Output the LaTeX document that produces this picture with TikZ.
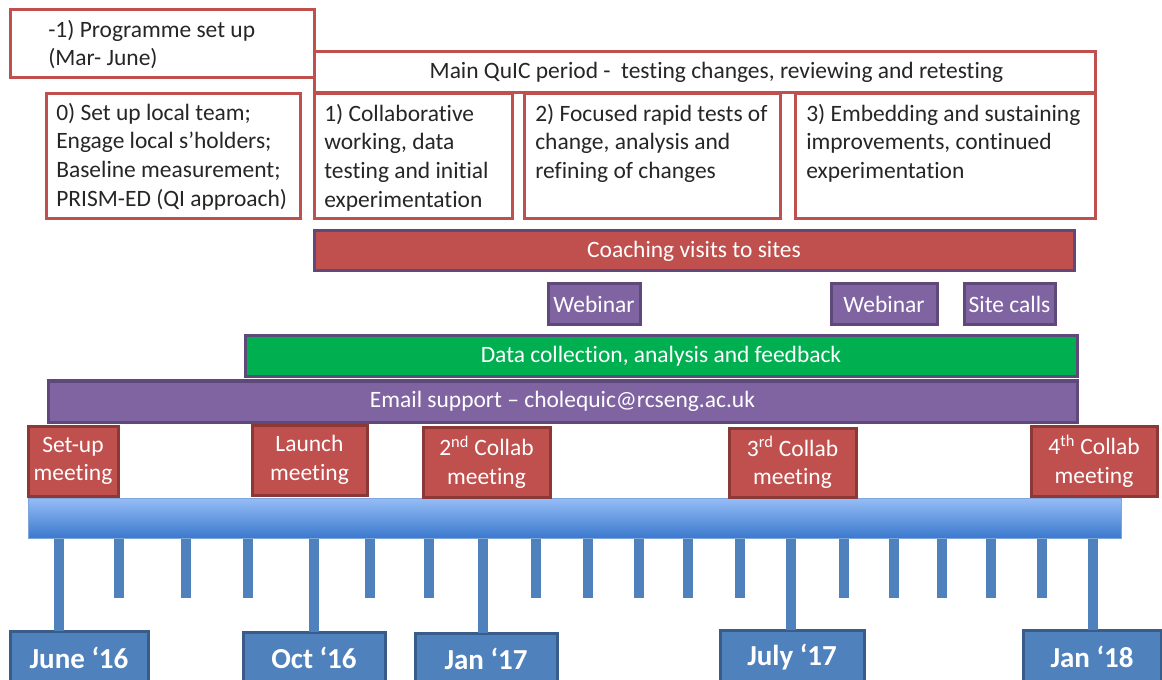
\documentclass[tikz,border=0pt]{standalone}
\usepackage{fontspec}
\setmainfont[Ligatures={TeX,NoCommon}]{Carlito}
\definecolor{qred}{HTML}{C0504D}
\definecolor{qredd}{HTML}{8C3836}
\definecolor{qpurp}{HTML}{8064A2}
\definecolor{qpurpd}{HTML}{5F497A}
\definecolor{qgreen}{HTML}{00B050}
\definecolor{qblue}{HTML}{4F81BD}
\definecolor{qblued}{HTML}{385D8A}
\definecolor{qbartop}{HTML}{96BDF6}
\definecolor{qbarbot}{HTML}{3B79CD}
\definecolor{qbaredge}{HTML}{7FA6DC}
\definecolor{qtext}{HTML}{262626}
\newcommand\pxbox[7]{\node[#1, minimum width={(#5-#3)*0.75pt}, minimum height={(#6-#4)*0.75pt}] (#2) at ({(#3+#5)/2},{(#4+#6)/2}) {#7};}
\tikzset{
  base/.style={inner sep=0pt, outer sep=0pt, line width=2.25pt, font=\fontsize{17.6pt}{21.4pt}\selectfont},
  phase/.style={base, draw=qred, fill=white},
  phasetext/.style={inner sep=0pt, anchor=north west, align=left, text=qtext, font=\fontsize{17.6pt}{21.4pt}\selectfont},
  redbar/.style={base, draw=qpurpd, fill=qred, text=white},
  purpbox/.style={base, draw=qpurpd, fill=qpurp, text=white},
  greenbar/.style={base, draw=qpurpd, fill=qgreen, text=white},
  meetbox/.style={base, draw=qredd, fill=qred, text=white, align=center},
  datebox/.style={base, draw=qblued, fill=qblue, text=white, font=\fontsize{21.75pt}{26pt}\selectfont\bfseries},
  tick/.style={draw=qblue, line width=7.5pt},
  tline/.style={base, line width=0.6pt, draw=qbaredge, top color=qbartop, bottom color=qbarbot}
}
\begin{document}
\begin{tikzpicture}[x=0.75pt, y=-0.75pt]
\useasboundingbox (0,0) rectangle (1162,680);
\clip (0,0) rectangle (1162,680);

% top phase boxes
\pxbox{phase}{pm1}{10}{10}{314}{78}{}
\node[phasetext] (pm1t) at (48,20) {-1) Programme set up\\(Mar- June)};
\pxbox{phase}{main}{314}{52}{1095}{93}{}
\node[inner sep=0pt, text=qtext, font=\fontsize{17.6pt}{21.4pt}\selectfont] (maint) at (716.5,72) {Main QuIC period -\ \ testing changes, reviewing and retesting};
\pxbox{phase}{p0}{46}{94}{300}{219}{}
\node[phasetext] (p0t) at (56,103) {0) Set up local team;\\Engage local s’holders;\\Baseline measurement;\\PRISM-ED (QI approach)};
\pxbox{phase}{p1}{314}{94}{512}{219}{}
\node[phasetext] (p1t) at (324,104) {1) Collaborative\\working, data\\testing and initial\\experimentation};
\pxbox{phase}{p2}{524}{94}{780}{219}{}
\node[phasetext] (p2t) at (535,104) {2) Focused rapid tests of\\change, analysis and\\refining of changes};
\pxbox{phase}{p3}{795}{94}{1095}{219}{}
\node[phasetext] (p3t) at (806,104) {3) Embedding and sustaining\\improvements, continued\\experimentation};

% support bars
\pxbox{redbar}{coach}{314}{231}{1074}{271}{Coaching visits to sites}
\pxbox{purpbox}{web1}{548}{284}{640}{325}{Webinar}
\pxbox{purpbox}{web2}{831}{284}{937}{325}{Webinar}
\pxbox{purpbox}{calls}{964}{284}{1055}{325}{Site calls}
\pxbox{greenbar}{data}{245}{336}{1077}{377}{Data collection, analysis and feedback}
\pxbox{purpbox}{email}{48}{381}{1077}{422}{Email support – cholequic@rcseng.ac.uk}

% ticks
\foreach \tx in {119,186,248,370,429,536,588,639,688,740,844,894,942,991,1042}
  {\draw[tick] (\tx,530) -- (\tx,598);}

% date boxes
\pxbox{datebox}{dJun16}{10}{631}{148}{684}{June ‘16}
\pxbox{datebox}{dOct16}{243}{632}{385}{684}{Oct ‘16}
\pxbox{datebox}{dJan17}{415}{633}{557}{684}{Jan ‘17}
\pxbox{datebox}{dJul17}{720}{630}{864}{684}{July ‘17}
\pxbox{datebox}{dJan18}{1023}{630}{1161}{684}{Jan ‘18}

\coordinate (tJun16) at (59,530);
\coordinate (tOct16) at (314,530);
\coordinate (tJan17) at (483,530);
\coordinate (tJul17) at (791,530);
\coordinate (tJan18) at (1093,530);
\draw[tick] (tJun16) -- (tJun16 |- dJun16.north);
\draw[tick] (tOct16) -- (tOct16 |- dOct16.north);
\draw[tick] (tJan17) -- (tJan17 |- dJan17.north);
\draw[tick] (tJul17) -- (tJul17 |- dJul17.north);
\draw[tick] (tJan18) -- (tJan18 |- dJan18.north);

% timeline bar
\pxbox{tline}{bar}{28}{498}{1121}{538}{}

% meetings
\pxbox{meetbox}{mSetup}{28}{426}{118}{496}{Set-up\\meeting}
\pxbox{meetbox}{mLaunch}{252}{425}{367}{495}{Launch\\meeting}
\pxbox{meetbox}{m2}{423}{427}{550}{497}{2\textsuperscript{nd} Collab\\meeting}
\pxbox{meetbox}{m3}{729}{428}{856}{497}{3\textsuperscript{rd} Collab\\meeting}
\pxbox{meetbox}{m4}{1031}{426}{1157}{496}{4\textsuperscript{th} Collab\\meeting}
\end{tikzpicture}
\end{document}
